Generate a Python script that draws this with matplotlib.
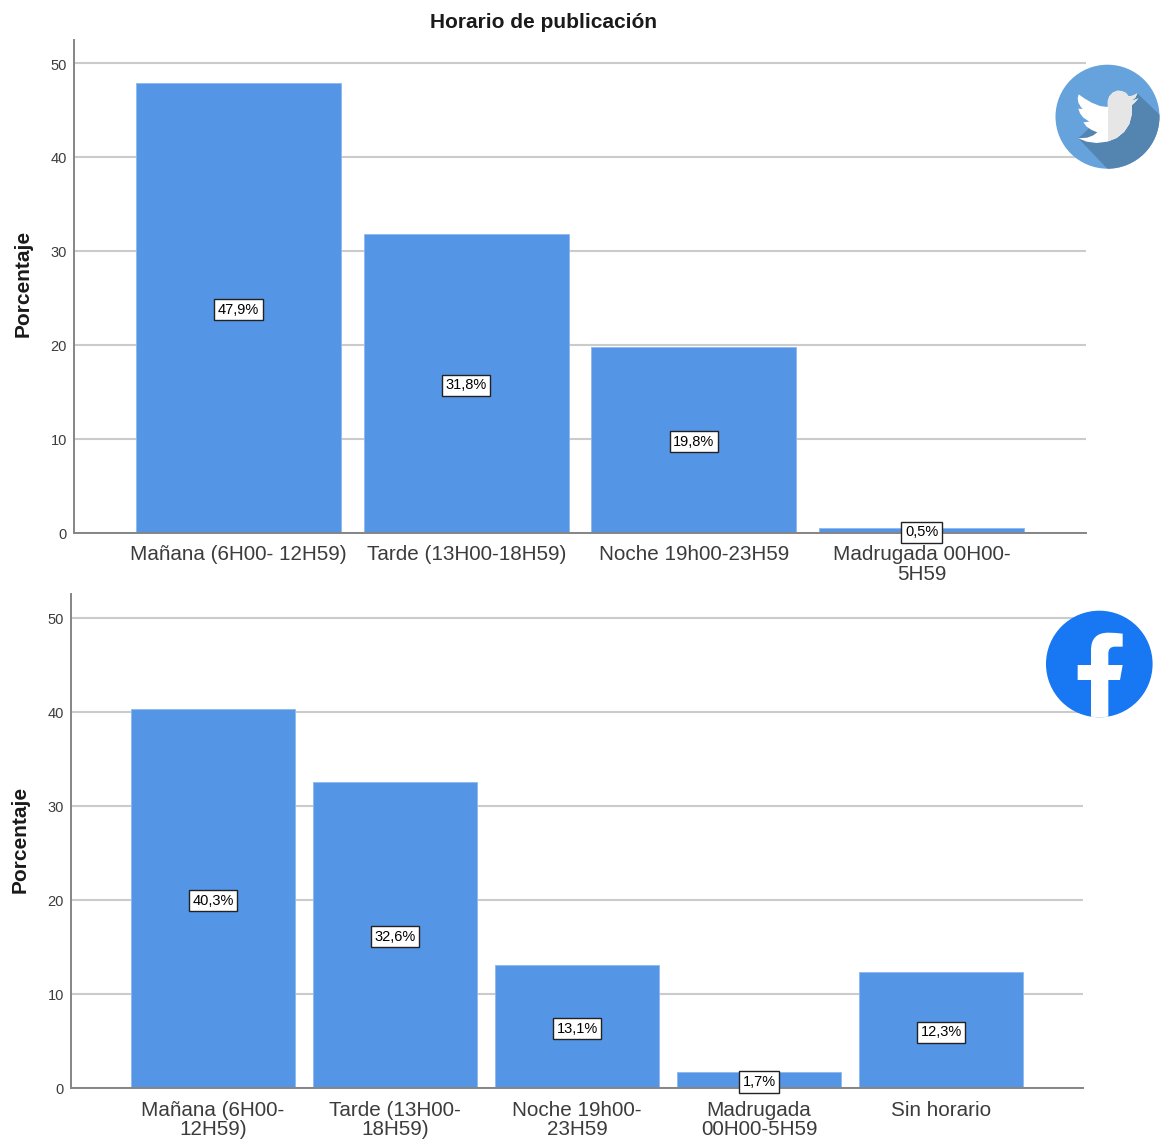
# Import libraries
import matplotlib
matplotlib.use('Agg')
import matplotlib.pyplot as plt
from matplotlib.patches import Circle, PathPatch, Polygon, Rectangle
from matplotlib.path import Path
from matplotlib.transforms import ScaledTranslation

# Declare variable
W, H = 1160, 1140
BAR_COLOR = '#5495e5'
GRID_COLOR = '#cbcbcb'
AXIS_COLOR = '#858585'
TEXT_COLOR = '#3c3c3c'

tw_categories = ['Mañana (6H00- 12H59)', 'Tarde (13H00-18H59)', 'Noche 19h00-23H59', 'Madrugada 00H00-\n5H59']
tw_values = [47.9, 31.8, 19.8, 0.5]
fb_categories = ['Mañana (6H00-\n12H59)', 'Tarde (13H00-\n18H59)', 'Noche 19h00-\n23H59', 'Madrugada\n00H00-5H59', 'Sin horario']
fb_values = [40.3, 32.6, 13.1, 1.7, 12.3]
y_ticks = [0, 10, 20, 30, 40, 50]

plt.rcParams['font.family'] = ['Liberation Sans', 'DejaVu Sans']


# Declare function
def draw_panel(fig, box, xlim, ylim_top, categories, values, ylabel_x):
    ## Box is left, top, right, bottom in pixels
    left, top, right, bottom = box
    ax = fig.add_axes([left / W, 1 - bottom / H, (right - left) / W, (bottom - top) / H])
    ax.bar(range(len(values)), values, width=0.9, color=BAR_COLOR, edgecolor='#8db8ee', linewidth=0.6, zorder=2)
    ax.set_xlim(*xlim)
    ax.set_ylim(0, ylim_top)
    ax.set_yticks(y_ticks)
    ax.set_xticks(range(len(values)))
    ax.set_xticklabels(categories, fontsize=14.9, color=TEXT_COLOR, linespacing=1.06)
    ax.tick_params(axis='x', length=0, pad=9)
    ax.tick_params(axis='y', length=0, pad=5, labelsize=10.5, labelcolor=TEXT_COLOR)
    ## Nudge the y tick labels one pixel down
    nudge = ScaledTranslation(0, -1 / 100, fig.dpi_scale_trans)
    for tick_label in ax.get_yticklabels():
        tick_label.set_transform(tick_label.get_transform() + nudge)
    ax.grid(axis='y', color=GRID_COLOR, linewidth=1.5, zorder=1)
    ax.set_axisbelow(True)
    for side in ['top', 'right']:
        ax.spines[side].set_visible(False)
    for side in ['left', 'bottom']:
        ax.spines[side].set_color(AXIS_COLOR)
        ax.spines[side].set_linewidth(1.4)
        ax.spines[side].set_zorder(3)
    fig.text(ylabel_x / W, 1 - (bottom - 249) / H, 'Porcentaje', rotation=90, fontsize=15,
             fontweight='bold', color='#1a1a1a', ha='center', va='center')
    ## Value labels sit halfway up each bar
    for i, v in enumerate(values):
        label = f'{v:.1f}%'.replace('.', ',')
        ax.annotate(label, (i, v / 2), xytext=(0, -1.5), textcoords='offset points', fontsize=10.5,
                    color='black', ha='center', va='center', zorder=5, annotation_clip=False,
                    bbox=dict(boxstyle='square,pad=0.25', facecolor='white', edgecolor='#222222', linewidth=1))
    return ax


def zoomed_points(points, origin):
    ## Icon outlines are written at 3x, origin is the icon corner in pixels
    return [(origin[0] + x / 3, origin[1] + y / 3) for x, y in points]


def draw_twitter(ax):
    origin = (1030, 50)
    disc = Circle((1107.5, 116.7), 52, facecolor='#66a3dc', edgecolor='none', zorder=1)
    ax.add_patch(disc)
    ### Long shadow behind the bird
    shadow_pts = [(145, 265), (250, 375), (400, 375), (400, 205), (322, 130), (235, 180)]
    shadow = Polygon(zoomed_points(shadow_pts, origin), facecolor='#5484b0', edgecolor='none', zorder=2)
    ax.add_patch(shadow)
    shadow.set_clip_path(disc)
    ### Bird outline, white wing side and grey head side
    bird_pts = [(322, 130), (308, 137), (296, 139), (288, 129), (275, 123), (262, 122), (248, 128), (238, 139),
                (233, 153), (233, 171), (210, 168), (185, 158), (163, 145), (146, 133), (143, 145), (145, 158),
                (152, 170), (158, 177), (145, 176), (150, 190), (160, 203), (178, 215), (160, 217), (170, 230),
                (185, 240), (202, 247), (190, 256), (172, 263), (145, 265), (170, 275), (200, 279), (232, 275),
                (260, 264), (283, 245), (298, 222), (305, 195), (306, 165), (316, 156), (325, 145), (315, 149),
                (305, 152), (316, 143)]
    outline = zoomed_points(bird_pts, origin)
    ax.add_patch(Polygon(outline, facecolor='white', edgecolor='none', zorder=3))
    right_half = Polygon(outline, facecolor='#e6e6e6', edgecolor='none', zorder=4)
    ax.add_patch(right_half)
    clip = Rectangle((origin[0] + 233 / 3, origin[1]), 60, 130, transform=ax.transData)
    right_half.set_clip_path(clip)


def draw_facebook(ax):
    origin = (1030, 600)
    disc = Circle((1099.3, 664), 53.3, facecolor='#1877f2', edgecolor='none', zorder=1)
    ax.add_patch(disc)
    M, L, C, Z = Path.MOVETO, Path.LINETO, Path.CURVE3, Path.CLOSEPOLY
    f_pts = [(183, 360), (183, 240), (143, 240), (143, 195), (183, 195), (183, 150), (183, 98), (235, 98),
             (255, 98), (278, 101), (278, 140), (255, 140), (235, 140), (235, 160), (235, 195), (278, 195),
             (270, 240), (235, 240), (235, 360), (183, 360)]
    f_codes = [M, L, L, L, L, L, C, C, C, C, L, L, C, C, L, L, L, L, L, Z]
    f_patch = PathPatch(Path(zoomed_points(f_pts, origin), f_codes), facecolor='white', edgecolor='none', zorder=2)
    ax.add_patch(f_patch)
    f_patch.set_clip_path(disc)


# Script entrypoint
if __name__ == '__main__':
    fig = plt.figure(figsize=(W / 100, H / 100), dpi=100, facecolor='white')
    draw_panel(fig, (74, 40, 1086, 532.5), (-0.7226, 3.722), 52.45, tw_categories, tw_values, 23)
    draw_panel(fig, (71, 594, 1083, 1088), (-0.78, 4.78), 52.55, fb_categories, fb_values, 20)
    fig.text(544 / W, 1 - 22 / H, 'Horario de publicación', fontsize=15, fontweight='bold',
             color='#1a1a1a', ha='center', va='center')
    ## Overlay in pixel coordinates for the two network icons
    overlay = fig.add_axes([0, 0, 1, 1], zorder=10)
    overlay.set_xlim(0, W)
    overlay.set_ylim(H, 0)
    overlay.axis('off')
    draw_twitter(overlay)
    draw_facebook(overlay)
    fig.savefig('out.png', dpi=100)
